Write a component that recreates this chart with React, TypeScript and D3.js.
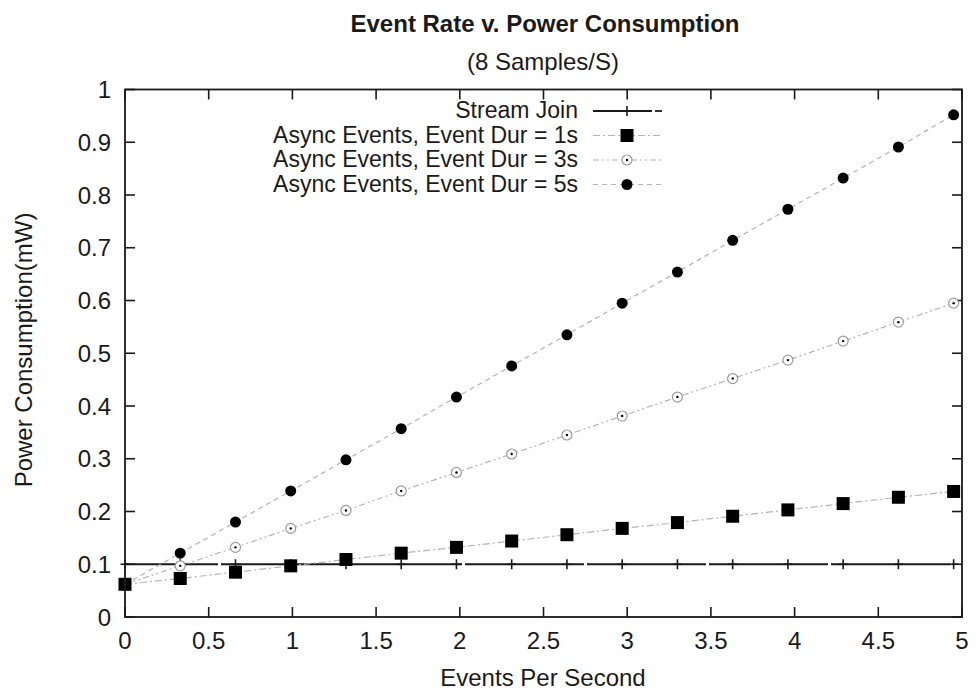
import * as d3 from "d3";

// x values (events per second)
const rates = [0, 0.33, 0.66, 0.99, 1.32, 1.65, 1.98, 2.31, 2.64, 2.97, 3.3, 3.63, 3.96, 4.29, 4.62, 4.95];
const streamJoin = [0.1, 0.1, 0.1, 0.1, 0.1, 0.1, 0.1, 0.1, 0.1, 0.1, 0.1, 0.1, 0.1, 0.1, 0.1, 0.1];
const dur1 = [0.062, 0.073, 0.085, 0.097, 0.109, 0.121, 0.132, 0.144, 0.156, 0.168, 0.179, 0.191, 0.203, 0.215, 0.227, 0.238];
const dur3 = [0.062, 0.097, 0.132, 0.168, 0.202, 0.239, 0.274, 0.309, 0.345, 0.381, 0.417, 0.452, 0.487, 0.523, 0.559, 0.595];
const dur5 = [0.062, 0.121, 0.18, 0.239, 0.298, 0.357, 0.417, 0.476, 0.535, 0.595, 0.654, 0.714, 0.773, 0.832, 0.891, 0.952];

const xTicks = [0, 0.5, 1, 1.5, 2, 2.5, 3, 3.5, 4, 4.5, 5];
const yTicks = [0, 0.1, 0.2, 0.3, 0.4, 0.5, 0.6, 0.7, 0.8, 0.9, 1];
const legendLabels = [
  "Stream Join",
  "Async Events, Event Dur = 1s",
  "Async Events, Event Dur = 3s",
  "Async Events, Event Dur = 5s",
];

const W = 976;
const H = 691;
const left = 125, right = 962, top = 89.5, bottom = 617;
const font = "'Liberation Sans', Arial, Helvetica, sans-serif";
const ink = "#1a1a1a";
const lineGray = "#b4b4b4";

export default function App() {
  const x = d3.scaleLinear().domain([0, 5]).range([left, right]);
  const y = d3.scaleLinear().domain([0, 1]).range([bottom, top]);

  const line = d3
    .line<number>()
    .x((d, i) => x(rates[i]))
    .y((d) => y(d));

  const tickLen = 10;
  const legX = 578;
  const legRows = [118, 142.5, 167, 191.5];
  const sx0 = 593, sx1 = 662, smid = 627;

  const plus = (cx: number, cy: number, k: string) => (
    <g key={k} stroke={ink} strokeWidth={1.6}>
      <line x1={cx - 4.5} x2={cx + 4.5} y1={cy} y2={cy} />
      <line x1={cx} x2={cx} y1={cy - 5} y2={cy + 5} />
    </g>
  );
  const square = (cx: number, cy: number, k: string) => (
    <rect key={k} x={cx - 6.5} y={cy - 6.5} width={13} height={13} fill="#000" />
  );
  const ring = (cx: number, cy: number, k: string) => (
    <g key={k}>
      <circle cx={cx} cy={cy} r={5} fill="#fff" stroke="#9a9a9a" strokeWidth={1.2} />
      <circle cx={cx} cy={cy} r={1.2} fill="#000" />
    </g>
  );
  const dot = (cx: number, cy: number, k: string) => (
    <circle key={k} cx={cx} cy={cy} r={5.5} fill="#000" />
  );

  return (
    <svg
      width={W}
      height={H}
      style={{ position: "absolute", left: 0, top: 0, background: "#fff" }}
      fontFamily={font}
    >
      <rect width={W} height={H} fill="#fff" />

      {/* titles */}
      <text x={545} y={32} textAnchor="middle" fontSize={24} fontWeight="bold" fill={ink}>
        Event Rate v. Power Consumption
      </text>
      <text x={543} y={70} textAnchor="middle" fontSize={24} fill={ink}>
        (8 Samples/S)
      </text>

      {/* frame ticks */}
      <g stroke={ink} strokeWidth={1.6}>
        {yTicks.map((t) => (
          <g key={"yt" + t}>
            <line x1={left} x2={left + tickLen} y1={y(t)} y2={y(t)} />
            <line x1={right} x2={right - tickLen} y1={y(t)} y2={y(t)} />
          </g>
        ))}
        {xTicks.map((t) => (
          <g key={"xt" + t}>
            <line x1={x(t)} x2={x(t)} y1={bottom} y2={bottom - tickLen} />
            <line x1={x(t)} x2={x(t)} y1={top} y2={top + tickLen} />
          </g>
        ))}
      </g>

      {/* tick labels */}
      <g fontSize={24} fill={ink}>
        {yTicks.map((t) => (
          <text key={"yl" + t} x={111} y={y(t) + 8.5} textAnchor="end">
            {d3.format("~g")(t)}
          </text>
        ))}
        {xTicks.map((t) => (
          <text key={"xl" + t} x={x(t)} y={649} textAnchor="middle">
            {d3.format("~g")(t)}
          </text>
        ))}
      </g>

      {/* axis titles */}
      <text x={543} y={686} textAnchor="middle" fontSize={24} fill={ink}>
        Events Per Second
      </text>
      <text
        transform={`translate(32,350) rotate(-90)`}
        textAnchor="middle"
        fontSize={24}
        fill={ink}
      >
        Power Consumption(mW)
      </text>

      {/* series lines */}
      <path d={line(streamJoin) || ""} fill="none" stroke={ink} strokeWidth={1.8} strokeDasharray="119,3" strokeDashoffset={26} />
      <path d={line(dur1) || ""} fill="none" stroke={lineGray} strokeWidth={1.2} strokeDasharray="7,3,2,3" />
      <path d={line(dur3) || ""} fill="none" stroke={lineGray} strokeWidth={1.2} strokeDasharray="6,3,2,3,2,3" />
      <path d={line(dur5) || ""} fill="none" stroke={lineGray} strokeWidth={1.2} strokeDasharray="5,4" />

      {/* markers */}
      {streamJoin.map((v, i) => plus(x(rates[i]), y(v), "p" + i))}
      {dur3.map((v, i) => ring(x(rates[i]), y(v), "r" + i))}
      {dur5.map((v, i) => dot(x(rates[i]), y(v), "d" + i))}
      {dur1.map((v, i) => square(x(rates[i]), y(v), "s" + i))}

      {/* legend */}
      <g fontSize={23} fill={ink}>
        {legendLabels.map((l, i) => (
          <text key={"lg" + i} x={legX} y={legRows[i]} textAnchor="end">
            {l}
          </text>
        ))}
      </g>
      <g>
        <line x1={sx0} x2={652} y1={legRows[0] - 7} y2={legRows[0] - 7} stroke={ink} strokeWidth={1.8} />
        <line x1={655} x2={sx1} y1={legRows[0] - 7} y2={legRows[0] - 7} stroke={ink} strokeWidth={1.8} />
        {plus(smid, legRows[0] - 7, "lp")}
        <line x1={sx0} x2={sx1} y1={legRows[1] - 7} y2={legRows[1] - 7} stroke={lineGray} strokeWidth={1.2} strokeDasharray="7,3,2,3" />
        {square(smid, legRows[1] - 7, "ls")}
        <line x1={sx0} x2={sx1} y1={legRows[2] - 7} y2={legRows[2] - 7} stroke={lineGray} strokeWidth={1.2} strokeDasharray="6,3,2,3,2,3" />
        {ring(smid, legRows[2] - 7, "lr")}
        <line x1={sx0} x2={sx1} y1={legRows[3] - 7} y2={legRows[3] - 7} stroke={lineGray} strokeWidth={1.2} strokeDasharray="5,4" />
        {dot(smid, legRows[3] - 7, "ld")}
      </g>

      {/* frame */}
      <rect x={left} y={top} width={right - left} height={bottom - top} fill="none" stroke={ink} strokeWidth={1.8} />
    </svg>
  );
}
